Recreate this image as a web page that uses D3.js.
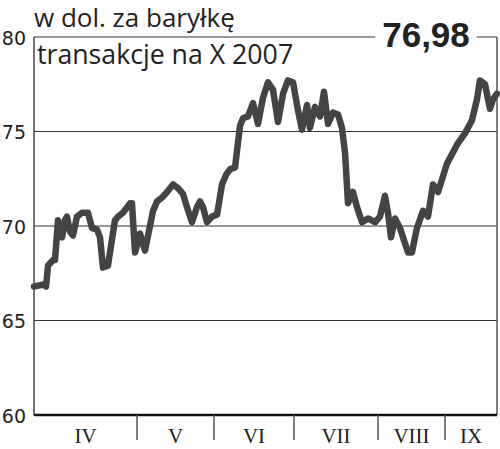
<!DOCTYPE html>
<html><head><meta charset="utf-8">
<script src="https://cdn.jsdelivr.net/npm/d3@7/dist/d3.min.js"></script>
<style>body{margin:0;background:#fff}svg{display:block}</style>
</head><body>
<svg id="c" width="500" height="449"></svg>
<script>
const title1 = "w dol. za baryłkę";
const title2 = "transakcje na X 2007";
const lastValue = "76,98";
const monthLabels = ["IV","V","VI","VII","VIII","IX"];
const monthStarts = [4,5,6,7,8,9];
const monthEnd = 9.867;
const yTicks = [60,65,70,75,80];
// time position as month + fraction of month
const t = [4.000,4.087,4.117,4.136,4.184,4.204,4.233,4.272,4.301,4.320,4.350,4.379,4.417,4.466,4.524,4.563,4.612,4.641,4.670,4.718,4.786,4.816,4.864,4.932,4.951,4.981,
5.039,5.104,5.208,5.260,5.325,5.390,5.468,5.532,5.597,5.649,5.714,5.779,5.818,5.857,5.909,5.974,
6.038,6.100,6.150,6.200,6.263,6.325,6.363,6.425,6.488,6.550,6.613,6.675,6.738,6.800,6.863,6.925,6.988,
7.048,7.095,7.155,7.190,7.250,7.310,7.357,7.405,7.464,7.524,7.571,7.607,7.643,7.702,7.750,7.810,7.881,7.964,
8.030,8.104,8.149,8.194,8.254,8.328,8.448,8.507,8.582,8.672,8.746,8.821,8.896,
9.033,9.200,9.333,9.450,9.533,9.583,9.667,9.750,9.800,9.867];
const price = [66.8,66.9,66.8,67.9,68.2,68.2,70.3,69.4,70.3,70.5,69.7,69.5,70.5,70.7,70.7,69.9,69.8,69.4,67.8,67.9,70.3,70.5,70.7,71.2,71.2,68.6,
69.6,68.7,70.8,71.3,71.5,71.8,72.2,72.0,71.7,71.0,70.2,71.0,71.3,71.0,70.2,70.5,
70.6,72.2,72.7,73.0,73.1,75.3,75.7,75.8,76.5,75.4,76.8,77.6,77.2,75.5,77.0,77.7,77.6,
76.1,75.1,76.4,75.2,76.3,75.8,77.1,75.4,76.0,75.9,75.2,73.9,71.2,71.8,71.0,70.2,70.4,70.2,
70.5,71.6,70.7,69.4,70.4,69.9,68.6,68.6,69.9,70.8,70.5,72.2,71.8,
73.3,74.3,74.9,75.6,76.7,77.7,77.5,76.2,76.7,77.0];

const svg = d3.select("#c");
const L = 34, R = 497, T = 37, B = 415;
const x = d3.scaleLinear().domain([...monthStarts, monthEnd]).range([34,137,214,294,378,445,497]);
const y = d3.scaleLinear().domain([60,80]).range([B,T]);

// gridlines
svg.append("g").selectAll("line").data(yTicks.filter(d=>d>60 && d<80)).join("line")
  .attr("x1",L).attr("x2",R).attr("y1",d=>y(d)).attr("y2",d=>y(d))
  .attr("stroke","#333").attr("stroke-width",1.2);

// frame
svg.append("line").attr("x1",L).attr("x2",L).attr("y1",T).attr("y2",B).attr("stroke","#444").attr("stroke-width",1.5);
svg.append("line").attr("x1",R).attr("x2",R).attr("y1",T).attr("y2",B).attr("stroke","#555").attr("stroke-width",1.5);
svg.append("line").attr("x1",L).attr("x2",R).attr("y1",T).attr("y2",T).attr("stroke","#333").attr("stroke-width",1.2);

// y labels
svg.append("g").selectAll("text").data(yTicks).join("text")
  .attr("x",26).attr("y",d=>y(d)+2).attr("text-anchor","end").attr("dominant-baseline","middle")
  .attr("font-family","DejaVu Sans").attr("font-size",19).attr("fill","#222").text(d=>d);

// line
svg.append("path").datum(t.map((d,i)=>[d,price[i]]))
  .attr("d", d3.line().x(d=>x(d[0])).y(d=>y(d[1])))
  .attr("fill","none").attr("stroke","#444").attr("stroke-width",6.5)
  .attr("stroke-linejoin","round").attr("stroke-linecap","round");

// bottom axis
svg.append("line").attr("x1",L).attr("x2",R).attr("y1",B).attr("y2",B).attr("stroke","#111").attr("stroke-width",2.5);
svg.append("g").selectAll("line").data(monthStarts.slice(1)).join("line")
  .attr("x1",d=>x(d)).attr("x2",d=>x(d)).attr("y1",B).attr("y2",440)
  .attr("stroke","#555").attr("stroke-width",1.5);
const bounds = [...monthStarts, monthEnd];
svg.append("g").selectAll("text").data(monthLabels).join("text")
  .attr("x",(d,i)=>(x(bounds[i])+x(bounds[i+1]))/2).attr("y",443)
  .attr("text-anchor","middle").attr("font-family","Liberation Serif").attr("font-size",21)
  .attr("fill","#222").text(d=>d);

// titles
svg.append("text").attr("x",34).attr("y",27).attr("font-family","Open Sans").attr("font-size",26).attr("fill","#222").text(title1);
svg.append("text").attr("x",37).attr("y",64).attr("font-family","Open Sans").attr("font-size",26.7).attr("fill","#222").text(title2);

// last value label
const lvBg = svg.append("rect").attr("fill","#fff");
const lv = svg.append("text").attr("x",426).attr("y",47).attr("text-anchor","middle")
  .attr("font-family","Liberation Sans").attr("font-weight","bold").attr("font-size",35).attr("fill","#222").text(lastValue);
const bb = lv.node().getBBox();
lvBg.attr("x",bb.x-7).attr("y",T-3).attr("width",bb.width+14).attr("height",6);
</script>
</body></html>
